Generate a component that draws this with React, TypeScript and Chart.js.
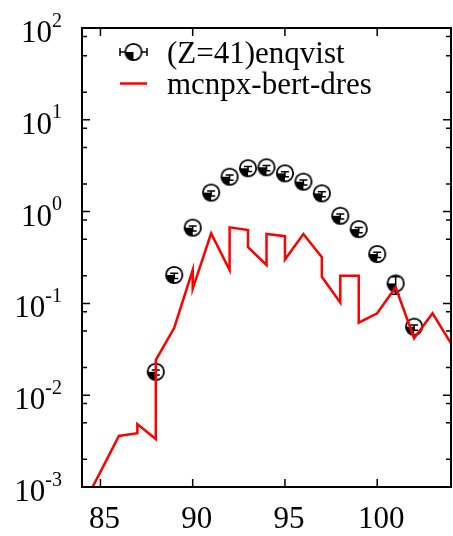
import React, { useEffect, useRef } from "react";
import { Chart, registerables } from "chart.js";

Chart.register(...registerables);

// ---- data ----
const expEnergies = [88, 89, 90, 91, 92, 93, 94, 95, 96, 97, 98, 99, 100, 101, 102];
const expValues = [0.018, 0.204, 0.668, 1.61, 2.4, 2.97, 3.04, 2.61, 2.12, 1.58, 0.9, 0.645, 0.345, 0.165, 0.0557];
const expErrLow = [0.0166, 0.187, 0.613, 1.48, 2.2, 2.73, 2.79, 2.4, 1.95, 1.45, 0.83, 0.59, 0.317, 0.126, 0.051];
const expErrHigh = [0.0188, 0.213, 0.697, 1.68, 2.5, 3.09, 3.17, 2.72, 2.21, 1.65, 0.94, 0.67, 0.36, 0.195, 0.058];

const simX = [84, 85, 86, 87, 87, 88, 88, 89, 90, 90, 91, 92, 92, 93, 93, 94, 94, 95, 95, 96, 97, 97, 98, 98, 99, 99, 100, 101, 102, 103, 104];
const simY = [0.0006, 0.00146, 0.0036, 0.00385, 0.00485, 0.00333, 0.0241, 0.0543, 0.231, 0.144, 0.58, 0.231, 0.674, 0.63, 0.41, 0.262, 0.57, 0.54, 0.3, 0.57, 0.318, 0.195, 0.102, 0.2, 0.2, 0.0617, 0.078, 0.15, 0.0417, 0.078, 0.0367];

const xTickValues = [85, 90, 95, 100];
const yDecades = [-3, -2, -1, 0, 1, 2];
const yMinorFactors = [0.81, 2, 5];

const expLabel = "(Z=41)enqvist";
const simLabel = "mcnpx-bert-dres";

const FONT = "'Liberation Serif', 'DejaVu Serif', serif";

function makeMarker(): HTMLCanvasElement {
  const c = document.createElement("canvas");
  c.width = 22;
  c.height = 22;
  const g = c.getContext("2d")!;
  const cx = 11, cy = 11, r = 8.2;
  g.fillStyle = "#fff";
  g.beginPath();
  g.arc(cx, cy, r, 0, Math.PI * 2);
  g.fill();
  g.fillStyle = "#000";
  g.beginPath();
  g.moveTo(cx, cy);
  g.arc(cx, cy, r, Math.PI / 2, Math.PI);
  g.closePath();
  g.fill();
  g.strokeStyle = "#000";
  g.lineWidth = 1.8;
  g.beginPath();
  g.arc(cx, cy, r, 0, Math.PI * 2);
  g.stroke();
  return c;
}

export default function App() {
  const ref = useRef<HTMLCanvasElement | null>(null);

  useEffect(() => {
    if (!ref.current) return;
    let chart: Chart | null = null;
    let cancelled = false;
    const marker = makeMarker();

    const decor = {
      id: "decor",
      afterDatasetDraw(ch: any, args: any) {
        if (args.index !== 0) return;
        const xs = ch.scales.x, ys = ch.scales.y;
        const ctx = ch.ctx as CanvasRenderingContext2D;
        ctx.save();
        ctx.strokeStyle = "#000";
        ctx.lineWidth = 1.5;
        expEnergies.forEach((e, i) => {
          const px = xs.getPixelForValue(e);
          const yl = ys.getPixelForValue(expErrLow[i]);
          const yh = ys.getPixelForValue(expErrHigh[i]);
          ctx.beginPath();
          ctx.moveTo(px, yl);
          ctx.lineTo(px, yh);
          ctx.moveTo(px - 4, yl);
          ctx.lineTo(px + 4, yl);
          ctx.moveTo(px - 4, yh);
          ctx.lineTo(px + 4, yh);
          ctx.stroke();
        });
        ctx.restore();
      },
      afterDraw(ch: any) {
        const { left, right, top, bottom } = ch.chartArea;
        const xs = ch.scales.x, ys = ch.scales.y;
        const ctx = ch.ctx as CanvasRenderingContext2D;
        ctx.save();
        ctx.strokeStyle = "#000";
        ctx.lineWidth = 2;
        ctx.strokeRect(left, top, right - left, bottom - top);
        ctx.lineWidth = 1.5;
        ctx.beginPath();
        xTickValues.forEach((v) => {
          const px = xs.getPixelForValue(v);
          ctx.moveTo(px, bottom);
          ctx.lineTo(px, bottom - 8);
          ctx.moveTo(px, top);
          ctx.lineTo(px, top + 8);
        });
        yDecades.forEach((k) => {
          const py = ys.getPixelForValue(Math.pow(10, k));
          ctx.moveTo(left, py);
          ctx.lineTo(left + 8, py);
          ctx.moveTo(right, py);
          ctx.lineTo(right - 8, py);
          yMinorFactors.forEach((f) => {
            const v = f * Math.pow(10, k);
            if (v < 1e-3 || v > 1e2) return;
            const pm = ys.getPixelForValue(v);
            ctx.moveTo(left, pm);
            ctx.lineTo(left + 5, pm);
            ctx.moveTo(right, pm);
            ctx.lineTo(right - 5, pm);
          });
        });
        ctx.stroke();
        ctx.fillStyle = "#000";
        ctx.textBaseline = "alphabetic";
        yDecades.forEach((k) => {
          const py = ys.getPixelForValue(Math.pow(10, k));
          const ex = String(k);
          ctx.font = `20px ${FONT}`;
          const ew = ctx.measureText(ex).width;
          ctx.textAlign = "left";
          ctx.fillText(ex, 62 - ew, py - 1.5);
          ctx.font = `31px ${FONT}`;
          ctx.textAlign = "right";
          ctx.fillText("10", 62 - ew, py + 14);
        });
        // legend
        ctx.strokeStyle = "#000";
        ctx.lineWidth = 1.5;
        ctx.beginPath();
        ctx.moveTo(120, 52);
        ctx.lineTo(147, 52);
        ctx.moveTo(120, 48);
        ctx.lineTo(120, 56);
        ctx.moveTo(147, 48);
        ctx.lineTo(147, 56);
        ctx.stroke();
        ctx.drawImage(marker, 133.5 - 11, 52 - 11);
        ctx.strokeStyle = "#ff0000";
        ctx.lineWidth = 2.5;
        ctx.beginPath();
        ctx.moveTo(120, 83.5);
        ctx.lineTo(147, 83.5);
        ctx.stroke();
        ctx.font = `31px ${FONT}`;
        ctx.textAlign = "left";
        ctx.fillStyle = "#000";
        ctx.fillText(expLabel, 167, 63);
        ctx.fillText(simLabel, 167, 93.5);
        ctx.restore();
      },
    };

    const build = () => {
      if (cancelled || !ref.current) return;
      chart = new Chart(ref.current, {
        type: "scatter",
        data: {
          datasets: [
            {
              label: expLabel,
              data: expEnergies.map((x, i) => ({ x, y: expValues[i] })),
              pointStyle: marker as any,
              pointRadius: 8,
              showLine: false,
              order: 2,
            },
            {
              label: simLabel,
              data: simX.map((x, i) => ({ x, y: simY[i] })),
              showLine: true,
              borderColor: "#ff0000",
              backgroundColor: "#ff0000",
              borderWidth: 2.5,
              pointRadius: 0,
              tension: 0,
              fill: false,
              order: 1,
            },
          ],
        },
        options: {
          animation: false,
          responsive: false,
          devicePixelRatio: 1,
          layout: { padding: { top: 28, right: 5, left: 0, bottom: 0 } },
          plugins: {
            legend: { display: false },
            tooltip: { enabled: false },
            title: { display: false },
          },
          scales: {
            x: {
              type: "linear",
              min: 84,
              max: 104,
              grid: { display: false, drawTicks: false },
              border: { display: false },
              afterBuildTicks: (s: any) => {
                s.ticks = xTickValues.map((v) => ({ value: v }));
              },
              afterFit: (s: any) => {
                s.height = 49;
              },
              ticks: {
                font: { family: FONT, size: 31 },
                color: "#000",
                padding: 14,
                labelOffset: 4,
                maxRotation: 0,
                autoSkip: false,
              },
            },
            y: {
              type: "logarithmic",
              min: 1e-3,
              max: 1e2,
              grid: { display: false, drawTicks: false },
              border: { display: false },
              ticks: { display: false },
              afterFit: (s: any) => {
                s.width = 82;
              },
            },
          },
        },
        plugins: [decor],
      });
    };

    const fonts = (document as any).fonts;
    if (fonts && fonts.load) {
      Promise.all([fonts.load("31px 'Liberation Serif'"), fonts.load("20px 'Liberation Serif'")])
        .catch(() => null)
        .then(() => build());
    } else {
      build();
    }
    return () => {
      cancelled = true;
      if (chart) chart.destroy();
    };
  }, []);

  return (
    <div style={{ position: "fixed", left: 0, top: 0, width: 453, height: 536, overflow: "hidden", background: "#fff" }}>
      <span style={{ position: "absolute", left: -1000, fontFamily: "'Liberation Serif'" }}>10</span>
      <canvas ref={ref} width={460} height={536} style={{ display: "block" }} />
    </div>
  );
}
